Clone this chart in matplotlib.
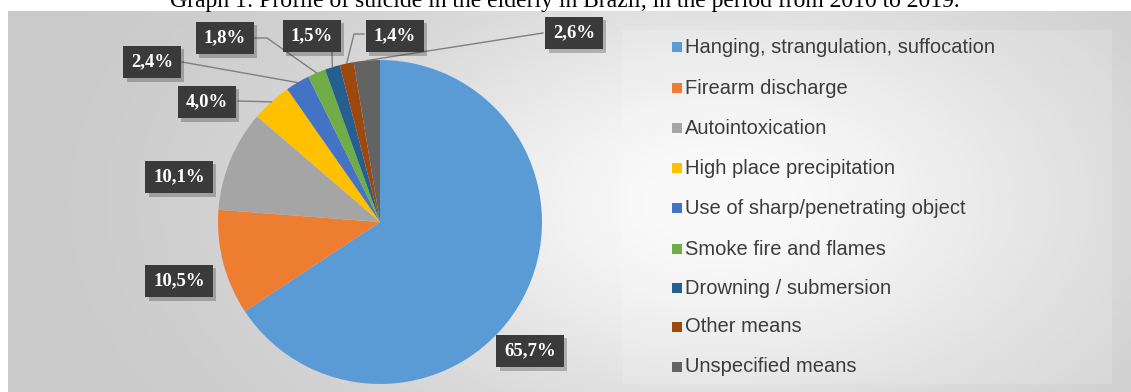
import numpy as np
import matplotlib
matplotlib.use("Agg")
import matplotlib.pyplot as plt
from matplotlib.patches import Rectangle
import matplotlib.patheffects as pe

# data
categories = [
    "Hanging, strangulation, suffocation",
    "Firearm discharge",
    "Autointoxication",
    "High place precipitation",
    "Use of sharp/penetrating object",
    "Smoke fire and flames",
    "Drowning / submersion",
    "Other means",
    "Unspecified means",
]
shares = [65.7, 10.5, 10.1, 4.0, 2.4, 1.8, 1.5, 1.4, 2.6]
labels = ["65,7%", "10,5%", "10,1%", "4,0%", "2,4%", "1,8%", "1,5%", "1,4%", "2,6%"]
colors = ["#5b9bd5", "#ed7d31", "#a5a5a5", "#ffc000", "#4472c4",
          "#70ad47", "#255e91", "#9e480e", "#636363"]

W, H = 1131, 392
fig = plt.figure(figsize=(W / 100, H / 100), dpi=100)
ax = fig.add_axes([0, 0, 1, 1])
ax.set_xlim(0, W)
ax.set_ylim(0, H)
ax.axis("off")

# gradient background
xs = np.linspace(8, W, 300)
ys = np.linspace(0, 381, 120)
X, Y = np.meshgrid(xs, ys)
bright = 0.79 + 0.19 * np.exp(-((X - 720) / 380) ** 2 - ((Y - 190) / 230) ** 2)
bg = np.dstack([bright, bright, bright])
ax.imshow(bg, extent=[8, W, 0, 381], origin="lower", aspect="auto", zorder=0)
ax.add_patch(Rectangle((622, 8), 490, 354, facecolor="white", alpha=0.15,
                       edgecolor="none", zorder=1))

# pie
cx, cy, r = 380, 170, 162
wedges, _ = ax.pie(shares, colors=colors, startangle=90, counterclock=False,
                   center=(cx, cy), radius=r, frame=True,
                   wedgeprops=dict(linewidth=0))
for w in wedges:
    w.set_zorder(3)
ax.set_xlim(0, W)
ax.set_ylim(0, H)
ax.axis("off")

# label boxes (pixel coords, y from top)
box_pos = [(530, 351), (179, 281), (179, 177), (207, 102), (152, 62),
           (225, 38), (312, 36), (395, 36), (574, 33)]
leader_from = [None, None, None, (238, 101), (182, 62), (255, 38),
               (332, 51), (364, 34), (543, 33)]
elbow = [None, None, None, None, None, (267, 38), None, (354, 34), None]

for i, (lab, (bx, by)) in enumerate(zip(labels, box_pos)):
    t = ax.text(bx, H - by, lab, ha="center", va="center", fontsize=13.5,
                family="Liberation Serif", weight="bold", color="white", zorder=6,
                bbox=dict(boxstyle="square,pad=0.42", facecolor="#3a3a3a",
                          edgecolor="none"))
    t.get_bbox_patch().set_path_effects(
        [pe.SimplePatchShadow(offset=(2.5, -2.5), alpha=0.25), pe.Normal()])
    if leader_from[i] is not None:
        w = wedges[i]
        mid = np.deg2rad((w.theta1 + w.theta2) / 2)
        ex, ey = cx + r * np.cos(mid), cy + r * np.sin(mid)
        pts = [leader_from[i]]
        if elbow[i] is not None:
            pts.append(elbow[i])
        px = [p[0] for p in pts] + [ex]
        py = [H - p[1] for p in pts] + [ey]
        ax.plot(px, py, color="#7f7f7f", linewidth=1, zorder=4)

# legend
leg_y = [47, 88, 128, 168, 208, 249, 288, 327, 367]
for name, col, ly in zip(categories, colors, leg_y):
    ax.add_patch(Rectangle((672, H - ly - 5), 10, 10, facecolor=col,
                           edgecolor="none", zorder=5))
    ax.text(685, H - ly, name, ha="left", va="center", fontsize=14.5,
            family="Liberation Sans", color="#3c3c3c", zorder=5)

# title, cut at the top like the source
ax.text(565, H - 7, "Graph 1: Profile of suicide in the elderly in Brazil, in the period from 2010 to 2019.",
        ha="center", va="baseline", fontsize=17, family="Liberation Serif",
        color="black", zorder=6)

fig.savefig("out.png", dpi=100)
